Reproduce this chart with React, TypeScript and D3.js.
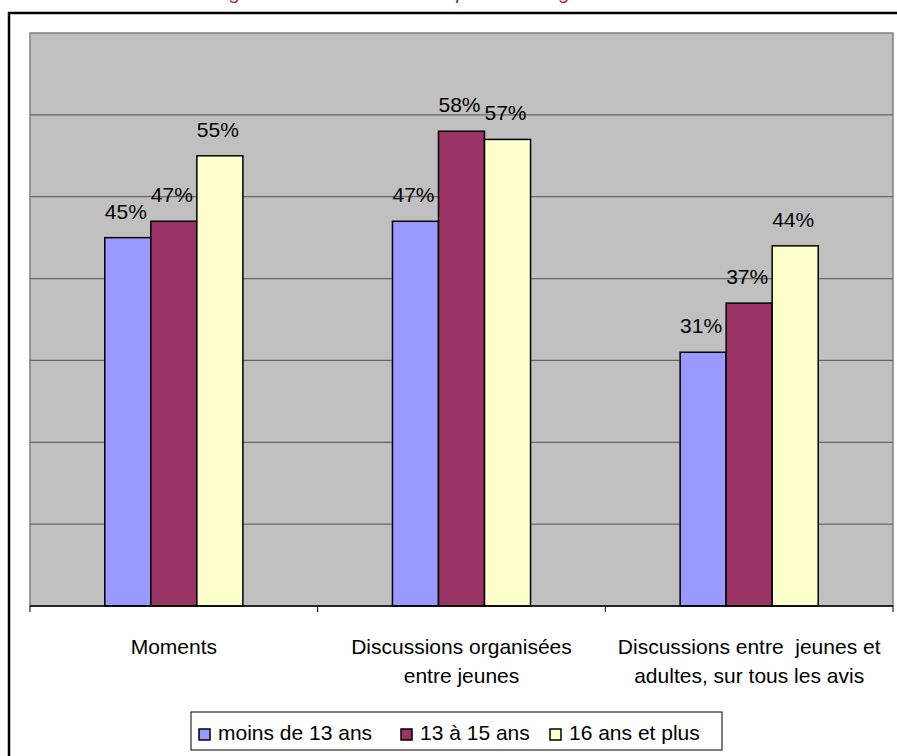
import React from "react";
import * as d3 from "d3";

const categories: string[][] = [
  ["Moments"],
  ["Discussions organisées", "entre jeunes"],
  ["Discussions entre  jeunes et", "adultes, sur tous les avis"],
];
const seriesNames = ["moins de 13 ans", "13 à 15 ans", "16 ans et plus"];
const seriesColors = ["#9999FF", "#993366", "#FFFFCC"];
const valuesMoins13 = [0.45, 0.47, 0.31];
const values13a15 = [0.47, 0.58, 0.37];
const values16plus = [0.55, 0.57, 0.44];
const series = [valuesMoins13, values13a15, values16plus];
const yTicks = [0, 0.1, 0.2, 0.3, 0.4, 0.5, 0.6, 0.7];
const titleText = "Figure 4 : Les moments de parole et l'âge";

const W = 897;
const H = 756;
const plot = { left: 30, right: 893, top: 33, bottom: 606 };
const FONT = "Arial, 'Liberation Sans', sans-serif";
const FS = 21;

export default function App() {
  const catKeys = categories.map((c) => c.join(" "));
  const x0 = d3.scaleBand<string>().domain(catKeys).range([plot.left, plot.right]);
  const groupW = x0.bandwidth() * 0.48;
  const x1 = d3.scaleBand<string>().domain(seriesNames).range([0, groupW]);
  const y = d3.scaleLinear().domain([0, 0.7]).range([plot.bottom, plot.top]);
  const fmt = d3.format(".0%");
  const boundaries = catKeys.map((k) => x0(k) as number).concat([plot.right]);

  const legendItemsX = [199, 401, 550];

  return (
    <div style={{ position: "absolute", left: 0, top: 0, width: W, height: H, background: "#fff" }}>
      <svg width={W} height={H} style={{ display: "block", fontFamily: FONT }}>
        <text x={213} y={-1} fontSize={20} fontStyle="italic" fill="#B0201E" fontFamily="'Liberation Sans', Arial, sans-serif">
          {titleText}
        </text>
        {/* outer frame */}
        <path d={`M9,${H + 5} L9,13 L${W + 5},13`} fill="none" stroke="#000" strokeWidth={2.5} />
        {/* plot area */}
        <rect x={plot.left} y={plot.top} width={plot.right - plot.left} height={plot.bottom - plot.top} fill="#C0C0C0" stroke="#808080" strokeWidth={1.5} />
        {yTicks.slice(1, -1).map((t) => (
          <line key={t} x1={plot.left} x2={plot.right} y1={y(t)} y2={y(t)} stroke="#666666" strokeWidth={1.3} />
        ))}
        {/* bars */}
        {catKeys.map((k, ci) => {
          const gx = (x0(k) as number) + (x0.bandwidth() - groupW) / 2;
          return (
            <g key={k}>
              {series.map((vals, si) => {
                const bx = gx + (x1(seriesNames[si]) as number);
                const by = y(vals[ci]);
                return (
                  <g key={si}>
                    <rect x={bx} y={by} width={x1.bandwidth()} height={plot.bottom - by} fill={seriesColors[si]} stroke="#000" strokeWidth={1.5} />
                    <text x={bx + x1.bandwidth() / 2 - 2} y={by - 19} fontSize={FS} textAnchor="middle" fill="#000">
                      {fmt(vals[ci])}
                    </text>
                  </g>
                );
              })}
            </g>
          );
        })}
        {/* x axis */}
        <line x1={plot.left} x2={plot.right} y1={plot.bottom} y2={plot.bottom} stroke="#000" strokeWidth={1.5} />
        {boundaries.map((bx, i) => (
          <line key={i} x1={bx} x2={bx} y1={plot.bottom} y2={plot.bottom + 6} stroke="#000" strokeWidth={1} />
        ))}
        {categories.map((lines, ci) => {
          const cx = (x0(catKeys[ci]) as number) + x0.bandwidth() / 2;
          return (
            <text key={ci} x={cx} y={654} fontSize={FS} textAnchor="middle" fill="#000" style={{ whiteSpace: "pre" }}>
              {lines.map((l, li) => (
                <tspan key={li} x={cx} dy={li === 0 ? 0 : 29}>
                  {l}
                </tspan>
              ))}
            </text>
          );
        })}
        {/* legend */}
        <rect x={191} y={712} width={531} height={38} fill="#fff" stroke="#000" strokeWidth={1} />
        {seriesNames.map((n, i) => (
          <g key={n}>
            <rect x={legendItemsX[i]} y={729} width={11} height={11} fill={seriesColors[i]} stroke="#000" strokeWidth={1.5} />
            <text x={legendItemsX[i] + 19} y={740} fontSize={FS} fill="#000">
              {n}
            </text>
          </g>
        ))}
      </svg>
    </div>
  );
}
